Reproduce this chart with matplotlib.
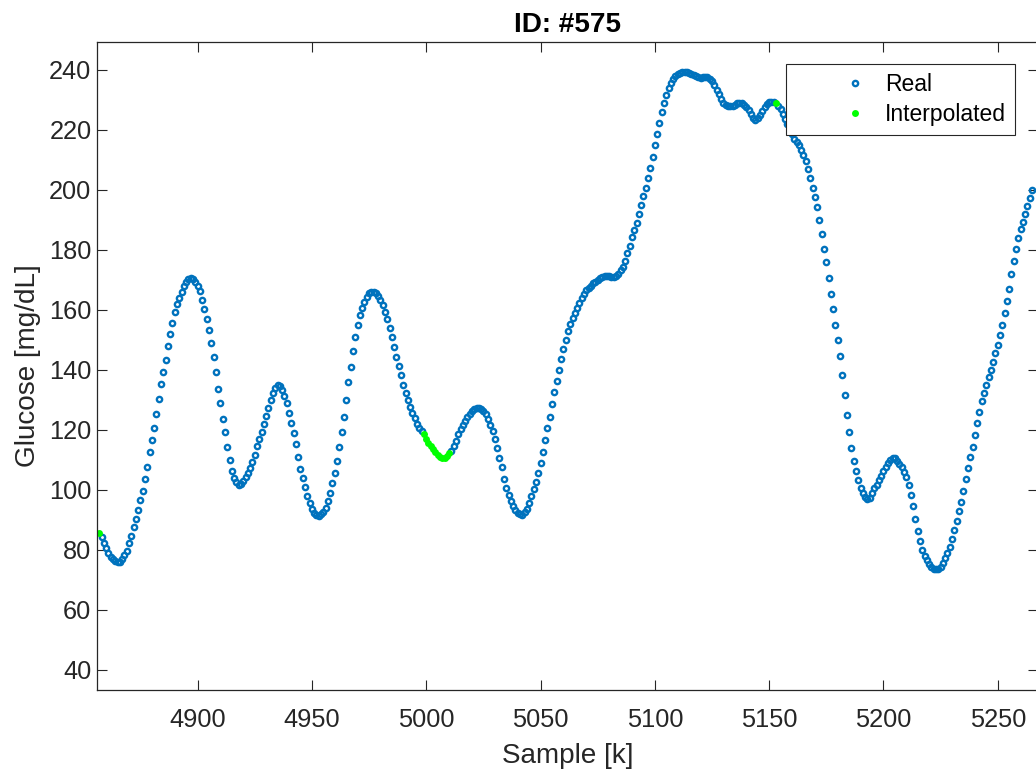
import numpy as np
import matplotlib
matplotlib.use("Agg")
import matplotlib.pyplot as plt
from matplotlib.legend_handler import HandlerLine2D

plt.rcParams['font.family'] = ['Liberation Sans', 'DejaVu Sans']

# glucose trace, one value per sample starting at k_start
k_start = 4857
glucose = [
    85.8, 84.2, 82.2, 80.5, 79.0, 77.8, 76.9, 76.2, 75.9, 76.1,
    76.9, 78.2, 79.8, 82.4, 84.7, 87.6, 90.2, 93.2, 96.5, 99.5,
    103.6, 107.8, 112.5, 116.6, 120.8, 125.4, 130.2, 135.2, 139.4, 143.4,
    147.8, 151.8, 155.5, 159.2, 162.0, 163.8, 166.0, 168.0, 169.4, 170.3,
    170.7, 170.4, 169.4, 168.0, 166.2, 163.4, 160.2, 157.0, 153.3, 149.1,
    144.4, 139.2, 133.5, 128.8, 123.5, 119.2, 114.4, 110.0, 106.4, 104.1,
    102.6, 101.8, 102.1, 103.0, 104.2, 105.6, 107.3, 109.3, 111.8, 114.6,
    117.0, 119.4, 122.0, 124.7, 127.2, 129.9, 132.2, 134.0, 134.9, 134.7,
    133.3, 131.4, 129.0, 125.8, 122.4, 118.9, 115.3, 111.1, 107.1, 104.0,
    100.9, 98.0, 95.8, 93.8, 92.4, 91.5, 91.4, 91.9, 92.6, 94.0,
    96.4, 99.1, 102.3, 105.7, 109.7, 114.4, 119.3, 124.3, 130.0, 135.8,
    141.0, 146.4, 151.1, 155.1, 158.2, 160.7, 162.7, 164.3, 165.5, 166.0,
    166.0, 165.5, 164.6, 163.3, 161.5, 159.2, 156.8, 154.1, 151.0, 147.6,
    144.4, 141.2, 138.2, 134.8, 132.4, 129.8, 127.6, 125.7, 124.0, 122.0,
    120.5, 119.5, 118.5, 117.0, 115.8, 114.6, 113.5, 112.5, 111.6, 110.9,
    110.5, 110.6, 111.2, 112.2, 113.0, 114.5, 116.4, 118.5, 120.2, 121.8,
    123.1, 124.3, 125.4, 126.3, 126.9, 127.2, 127.3, 127.1, 126.4, 125.3,
    123.7, 121.8, 119.8, 117.0, 114.0, 110.8, 107.5, 103.8, 100.7, 98.2,
    96.3, 94.6, 93.4, 92.4, 91.9, 91.8, 92.5, 93.8, 95.8, 98.0,
    100.2, 102.6, 105.6, 109.0, 112.8, 116.7, 120.7, 124.4, 128.7, 132.7,
    136.4, 140.1, 143.6, 147.0, 150.1, 152.9, 155.3, 157.3, 159.0, 160.7,
    162.3, 163.9, 165.3, 166.5, 167.3, 168.1, 168.8, 169.4, 170.0, 170.5,
    170.9, 171.2, 171.3, 171.2, 171.1, 171.1, 171.3, 172.0, 173.2, 174.4,
    176.2, 178.8, 181.3, 184.2, 186.7, 189.0, 192.0, 195.0, 197.8, 200.7,
    203.8, 207.3, 211.1, 215.0, 218.6, 222.4, 226.0, 228.8, 231.7, 234.0,
    235.5, 236.8, 237.8, 238.5, 238.9, 239.2, 239.3, 239.2, 239.0, 238.7,
    238.3, 238.0, 237.5, 237.3, 237.5, 237.6, 237.6, 237.0, 236.3, 234.8,
    233.2, 232.0, 230.3, 229.0, 228.4, 228.1, 228.0, 228.1, 228.3, 228.8,
    229.1, 229.0, 228.4, 227.7, 226.7, 225.3, 224.1, 223.3, 223.8, 225.0,
    226.3, 227.6, 228.5, 229.2, 229.4, 229.3, 228.9, 228.0, 226.8, 225.2,
    223.5, 221.8, 220.2, 218.6, 217.0, 215.8, 214.8, 213.4, 211.6, 209.6,
    206.8, 203.9, 200.5, 197.5, 194.2, 190.0, 185.3, 180.4, 175.8, 170.6,
    165.4, 160.3, 155.0, 149.9, 144.5, 138.3, 131.5, 125.0, 119.2, 114.0,
    109.5, 106.2, 103.3, 100.8, 99.1, 97.6, 96.9, 97.2, 99.0, 100.6,
    101.8, 103.2, 104.8, 106.2, 107.6, 108.9, 110.0, 110.5, 110.5, 109.8,
    108.8, 107.8, 106.0, 104.4, 101.6, 98.2, 94.5, 90.4, 86.4, 82.9,
    80.0, 78.0, 76.6, 75.3, 74.4, 73.8, 73.5, 73.5, 74.2, 75.6,
    77.3, 78.9, 81.1, 83.8, 86.7, 89.8, 92.9, 96.0, 99.8, 103.6,
    107.2, 110.9, 114.4, 118.2, 122.2, 125.9, 129.5, 132.4, 135.1, 137.6,
    139.8, 142.7, 145.6, 148.4, 151.6, 155.1, 158.9, 163.1, 167.1, 171.8,
    176.4, 180.2, 183.8, 186.9, 189.3, 191.8, 194.6, 197.4, 199.8,
]
# samples that were filled in by interpolation
interp_k = [4857, 4999, 5000, 5001, 5002, 5003, 5004, 5005, 5006, 5007,
            5008, 5009, 5010, 5153]

k = np.arange(k_start, k_start + len(glucose))
g = np.array(glucose)
is_interp = np.isin(k, interp_k)

x_ticks = [4900, 4950, 5000, 5050, 5100, 5150, 5200, 5250]
y_ticks = [40, 60, 80, 100, 120, 140, 160, 180, 200, 220, 240]

blue = '#0072BD'
dark = '#262626'

fig = plt.figure(figsize=(10.36, 7.74), dpi=100)
ax = fig.add_axes([97 / 1036, 1 - 690 / 774, 941 / 1036, 648 / 774])

ax.plot(k[~is_interp], g[~is_interp], 'o', linestyle='none', color=blue,
        markerfacecolor='none', markersize=3.8, markeredgewidth=1.7, label='Real')
ax.plot(k[is_interp], g[is_interp], 'o', linestyle='none', color='#00FF00',
        markersize=5.0, markeredgewidth=0, label='Interpolated')

ax.set_xlim(4856, 5267.6)
ax.set_ylim(33.3, 249.3)
ax.set_xticks(x_ticks)
ax.set_yticks(y_ticks)
ax.tick_params(direction='in', length=7, width=0.8, colors=dark,
               labelsize=18.3, top=True, right=True)
ax.tick_params(axis='x', pad=13)
ax.tick_params(axis='y', pad=4)
for sp in ax.spines.values():
    sp.set_color(dark)
    sp.set_linewidth(0.9)

ax.set_xlabel('Sample [k]', fontsize=20.1, color=dark, labelpad=8)
ax.set_ylabel('Glucose [mg/dL]', fontsize=20.1, color=dark, labelpad=6)
ax.set_title('ID: #575', fontsize=20.1, fontweight='bold', color='black', pad=7)

leg = ax.legend(loc='upper right', bbox_to_anchor=(1015 / 1036, 1 - 64 / 774),
                bbox_transform=fig.transFigure, borderaxespad=0,
                fontsize=16.5, fancybox=False, framealpha=1, edgecolor=dark,
                borderpad=0.4, labelspacing=0.3, handlelength=4.1,
                handletextpad=-0.2, numpoints=1,
                handler_map={plt.Line2D: HandlerLine2D(xpad=1.1)})
leg.get_frame().set_linewidth(0.8)

fig.savefig('out.png', dpi=100)
